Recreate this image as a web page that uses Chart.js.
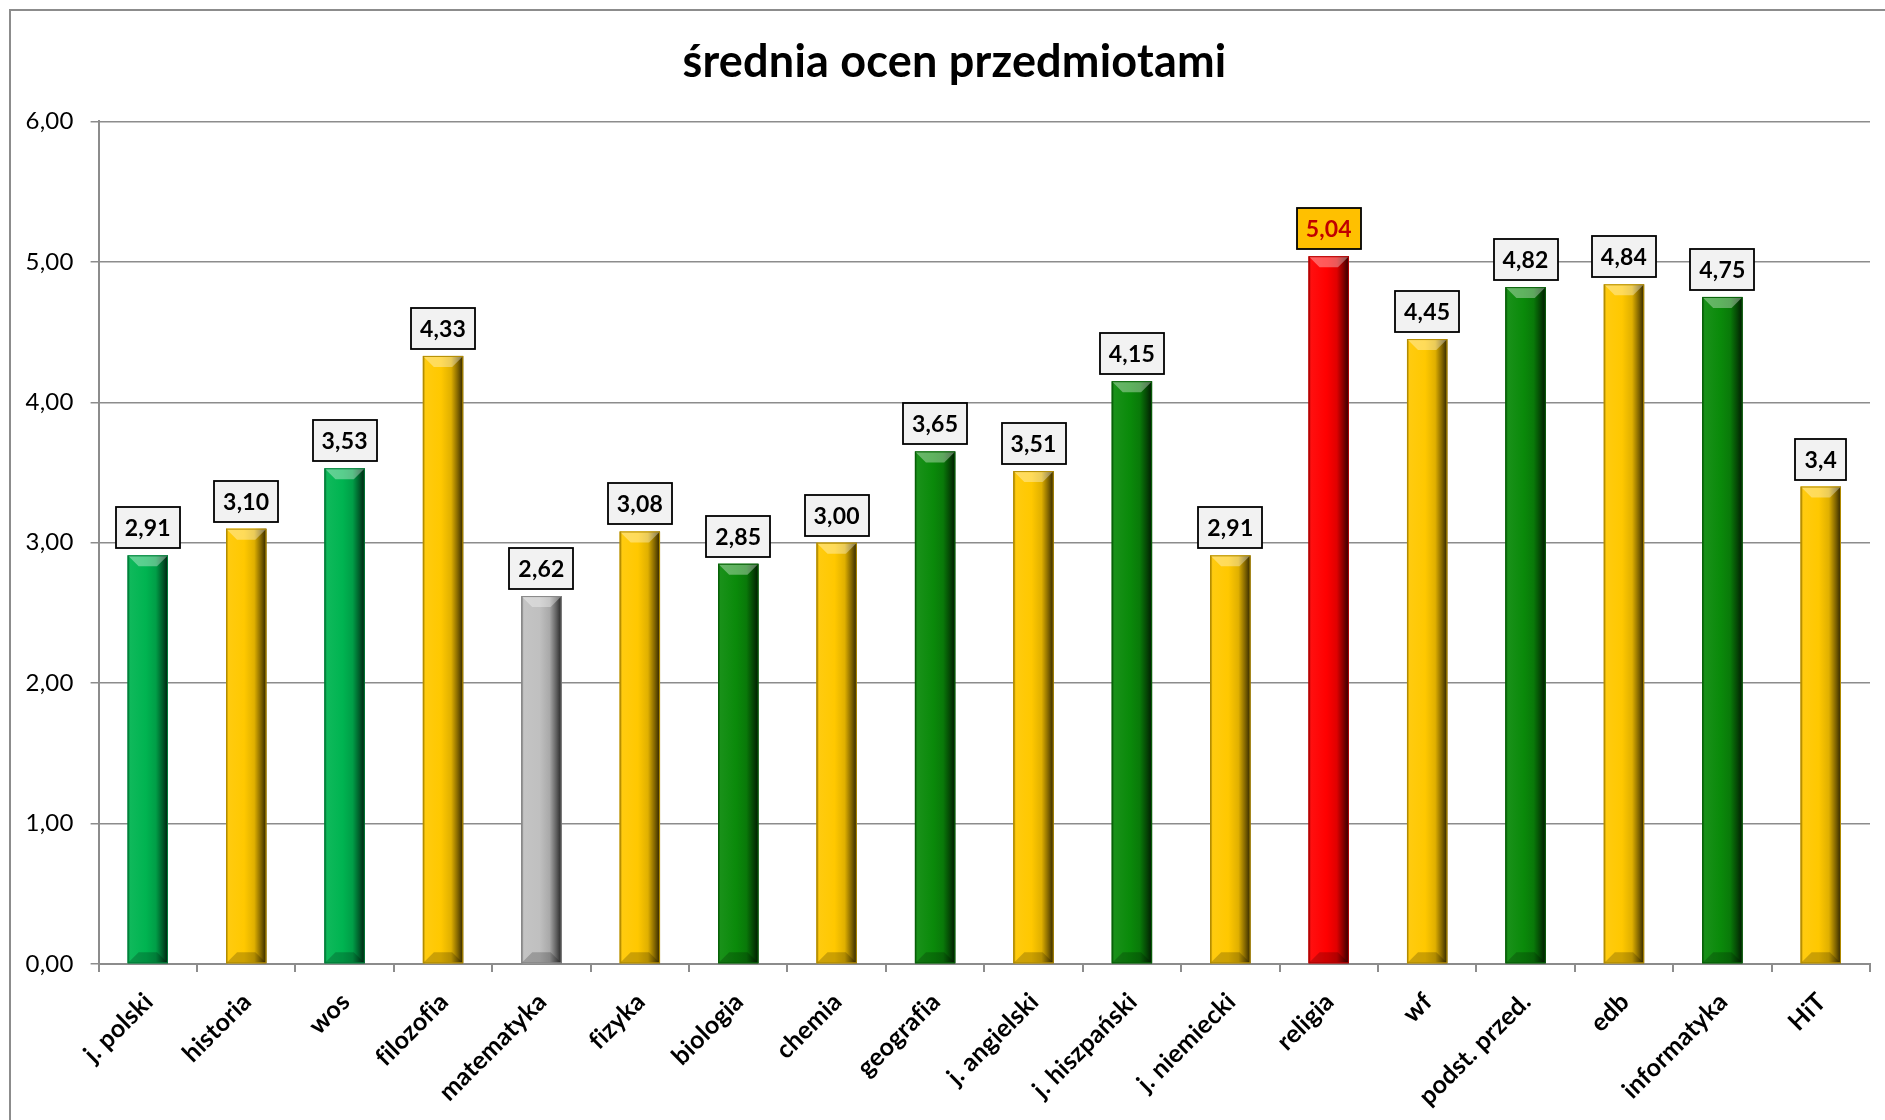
<!DOCTYPE html>
<html>
<head>
<meta charset="utf-8">
<script src="https://cdn.jsdelivr.net/npm/chart.js@4.4.1/dist/chart.umd.min.js"></script>
<style>
html,body{margin:0;padding:0;background:#fff;overflow:hidden}
#wrap{position:absolute;left:0;top:0;width:1885px;height:1120px}
</style>
</head>
<body>
<div id="wrap"><canvas id="c" width="1885" height="1120"></canvas></div>
<script>
const chartTitle = 'średnia ocen przedmiotami';
const categories = ['j. polski','historia','wos','filozofia','matematyka','fizyka','biologia','chemia','geografia','j. angielski','j. hiszpański','j. niemiecki','religia','wf','podst. przed.','edb','informatyka','HiT'];
const values = [2.91,3.10,3.53,4.33,2.62,3.08,2.85,3.00,3.65,3.51,4.15,2.91,5.04,4.45,4.82,4.84,4.75,3.4];
const valueLabels = ['2,91','3,10','3,53','4,33','2,62','3,08','2,85','3,00','3,65','3,51','4,15','2,91','5,04','4,45','4,82','4,84','4,75','3,4'];
const barColors = ['#00b451','#ffc800','#00b451','#ffc800','#c0c0c0','#ffc800','#0a8a0a','#ffc800','#0a8a0a','#ffc800','#0a8a0a','#ffc800','#ff0000','#ffc800','#0a8a0a','#ffc800','#0a8a0a','#ffc800'];
const yMin = 0, yMax = 6, yStep = 1;

function shade(hex, f){
  const n = parseInt(hex.slice(1),16);
  let r = n>>16, g = (n>>8)&255, b = n&255;
  if (f < 0){ r*=1+f; g*=1+f; b*=1+f; }
  else { r += (255-r)*f; g += (255-g)*f; b += (255-b)*f; }
  return 'rgb(' + Math.round(r) + ',' + Math.round(g) + ',' + Math.round(b) + ')';
}

const framePlugin = {
  id: 'frame',
  beforeDraw(chart){
    const ctx = chart.ctx;
    if ('letterSpacing' in ctx) ctx.letterSpacing = '0.2px';
    ctx.save();
    ctx.fillStyle = '#fff';
    ctx.fillRect(0,0,chart.width,chart.height);
    ctx.strokeStyle = '#8c8c8c';
    ctx.lineWidth = 2;
    ctx.beginPath();
    ctx.moveTo(10, chart.height + 5);
    ctx.lineTo(10, 10);
    ctx.lineTo(chart.width + 5, 10);
    ctx.stroke();
    ctx.restore();
  },
  afterDraw(chart){
    const ctx = chart.ctx;
    ctx.save();
    ctx.font = 'bold 45px Lato';
    ctx.fillStyle = '#000';
    ctx.textAlign = 'center';
    ctx.textBaseline = 'middle';
    ctx.fillText(chartTitle, 954.5, 62);
    ctx.restore();
  }
};

const bevelPlugin = {
  id: 'bevel',
  afterDatasetsDraw(chart){
    const ctx = chart.ctx;
    const meta = chart.getDatasetMeta(0);
    const maxIdx = values.indexOf(Math.max(...values));
    meta.data.forEach((bar, i) => {
      const c = barColors[i];
      const p = bar.getProps(['x','y','base','width'], true);
      const L = p.x - p.width/2, R = p.x + p.width/2, T = p.y, B = p.base;
      const w = p.width, h = B - T;
      ctx.save();
      const g = ctx.createLinearGradient(L,0,R,0);
      g.addColorStop(0, shade(c,-0.4));
      g.addColorStop(0.06, shade(c,0.06));
      g.addColorStop(0.45, c);
      g.addColorStop(0.7, shade(c,-0.12));
      g.addColorStop(0.87, shade(c,-0.5));
      g.addColorStop(1, shade(c,-0.82));
      ctx.fillStyle = g;
      ctx.fillRect(L, T, w, h);
      const bv = Math.min(11, h/2);
      ctx.beginPath();
      ctx.moveTo(L,T); ctx.lineTo(R,T); ctx.lineTo(R-bv,T+bv); ctx.lineTo(L+bv,T+bv); ctx.closePath();
      ctx.fillStyle = 'rgba(255,255,255,0.35)';
      ctx.fill();
      ctx.beginPath();
      ctx.moveTo(L,B); ctx.lineTo(R,B); ctx.lineTo(R-bv,B-bv); ctx.lineTo(L+bv,B-bv); ctx.closePath();
      ctx.fillStyle = 'rgba(0,0,0,0.2)';
      ctx.fill();
      ctx.strokeStyle = shade(c,-0.3);
      ctx.lineWidth = 1;
      ctx.strokeRect(L+0.5, T+0.5, w-1, h-1);
      ctx.restore();

      // value label box
      const txt = valueLabels[i];
      ctx.save();
      ctx.font = 'bold 23px Lato';
      const tw = ctx.measureText(txt).width;
      const bw = Math.round(tw + 18), bh = 41;
      const bx = Math.round(p.x - bw/2), by = Math.round(T - 7 - bh);
      ctx.fillStyle = i === maxIdx ? '#ffc000' : '#f2f2f2';
      ctx.fillRect(bx, by, bw, bh);
      ctx.strokeStyle = '#000';
      ctx.lineWidth = 1.8;
      ctx.strokeRect(bx, by, bw, bh);
      ctx.fillStyle = i === maxIdx ? '#c00000' : '#000';
      ctx.textAlign = 'center';
      ctx.textBaseline = 'middle';
      ctx.fillText(txt, p.x, by + bh/2 + 1);
      ctx.restore();
    });
  }
};

new Chart(document.getElementById('c'), {
  type: 'bar',
  data: {
    labels: categories,
    datasets: [{
      data: values,
      backgroundColor: barColors,
      barPercentage: 0.41,
      categoryPercentage: 1.0
    }]
  },
  options: {
    responsive: false,
    animation: false,
    layout: { padding: { left: 10, right: 15, top: 121.4, bottom: 0 } },
    plugins: {
      legend: { display: false },
      tooltip: { enabled: false },
      title: { display: false }
    },
    scales: {
      x: {
        offset: true,
        grid: { display: true, drawOnChartArea: false, drawTicks: true, tickLength: 8, offset: true, color: '#8c8c8c', lineWidth: 2 },
        border: { display: true, color: '#8c8c8c', width: 2 },
        ticks: {
          color: '#000',
          font: { family: 'Lato', size: 25, weight: 'bold' },
          maxRotation: 45, minRotation: 45,
          autoSkip: false,
          padding: 15,
          labelOffset: 1
        },
        afterFit(s){ s.height = 156; }
      },
      y: {
        min: yMin, max: yMax,
        grid: { color: '#8c8c8c', lineWidth: 1.5, drawTicks: true, tickLength: 8 },
        border: { display: true, color: '#8c8c8c', width: 2 },
        ticks: {
          stepSize: yStep,
          color: '#000',
          padding: 17,
          font: { family: 'Lato', size: 24 },
          callback: v => v.toFixed(2).replace('.', ',')
        },
        afterFit(s){ s.width = 88.6; }
      }
    }
  },
  plugins: [framePlugin, bevelPlugin]
});
</script>
</body>
</html>
